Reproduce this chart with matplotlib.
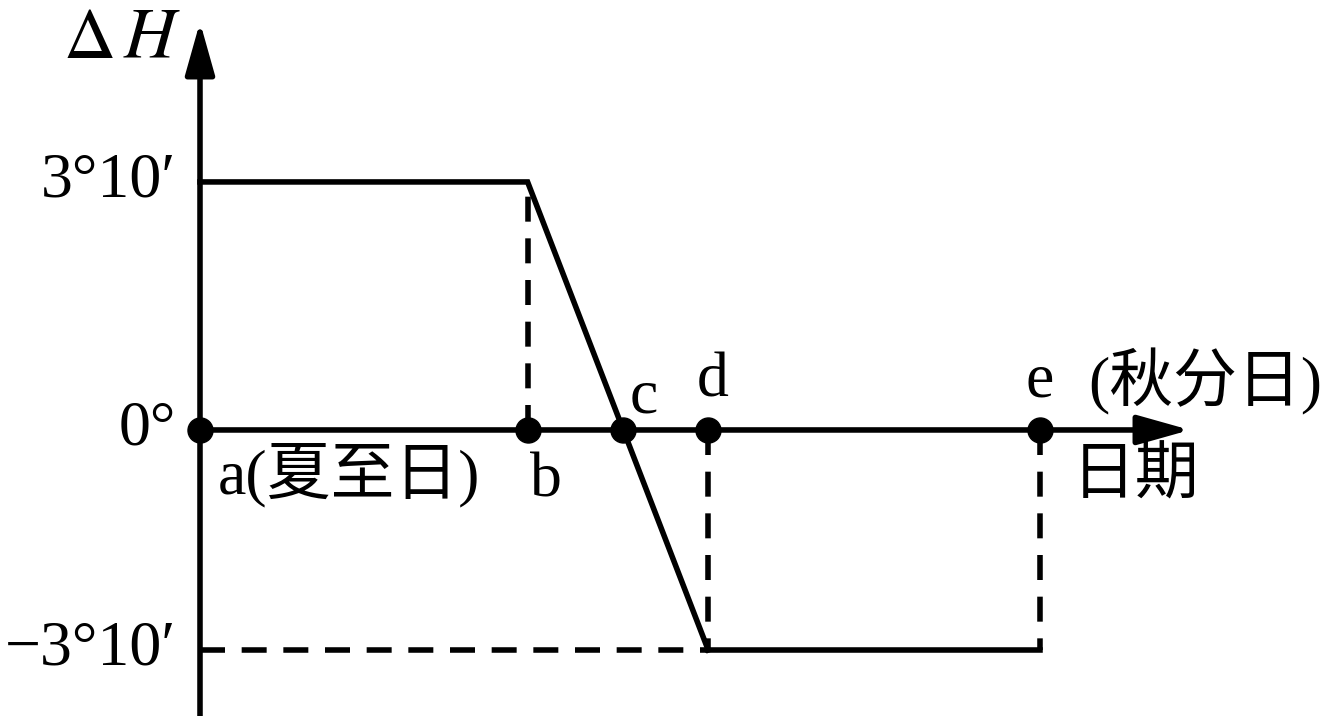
import numpy as np
import matplotlib.pyplot as plt

plt.rcParams['font.family'] = ['Liberation Serif', 'Noto Sans CJK SC', 'DejaVu Serif']
plt.rcParams['mathtext.fontset'] = 'stix'

# points on the date axis (a = summer solstice, e = autumn equinox)
day_names = ['a', 'b', 'c', 'd', 'e']
day_x = [0.0, 3.9, 5.04, 6.05, 10.0]
# ΔH in arc minutes: 3°10' = 190'
dh_max = 190
dh_min = -190
curve_x = [day_x[0], day_x[1], day_x[3], day_x[4]]
curve_y = [dh_max, dh_max, dh_min, dh_min]
ytick_vals = [dh_max, 0, dh_min]
ytick_text = ['3°10′', '0°', '−3°10′']

# the drawing stretches the upper half a bit more than the lower half
up = 248 / 220


def fwd(y):
    y = np.asarray(y, dtype=float)
    return np.where(y > 0, y * up, y)


def inv(t):
    t = np.asarray(t, dtype=float)
    return np.where(t > 0, t / up, t)


fig = plt.figure(figsize=(13.36, 7.16), dpi=100)
ax = fig.add_axes([0, 0, 1, 1])
ax.set_yscale('function', functions=(fwd, inv))
ax.set_xlim(-200 / 84, 1136 / 84)
ax.set_ylim(-247, 371.3 / up)
ax.axis('off')

lw = 4
dash = (4.5, 3)

# axes with arrows
arrow = dict(arrowstyle='-|>,head_length=1.6,head_width=0.45', lw=lw,
             color='black', shrinkA=0, shrinkB=0, mutation_scale=20)
ax.annotate('', xy=(day_x[0], 1 - 22 / 716), xytext=(day_x[0], 0),
            xycoords=ax.get_xaxis_transform(), arrowprops=arrow)
ax.annotate('', xy=(1190 / 1336, 0), xytext=(day_x[0], 0),
            xycoords=ax.get_yaxis_transform(), textcoords='data',
            arrowprops=arrow)

# dashed helper lines
ax.plot([day_x[1], day_x[1]], [0, dh_max], color='black', lw=lw, dashes=dash)
ax.plot([day_x[3], day_x[3]], [0, dh_min], color='black', lw=lw, dashes=dash)
ax.plot([day_x[4], day_x[4]], [0, dh_min], color='black', lw=lw, dashes=dash)
ax.plot([day_x[0], day_x[3]], [dh_min, dh_min], color='black', lw=lw, dashes=dash)

# ΔH curve
ax.plot(curve_x[:3], curve_y[:3], color='black', lw=lw, solid_joinstyle='miter')
ax.plot(curve_x[2:], curve_y[2:], color='black', lw=lw)

# points
ax.plot(day_x, [0] * len(day_x), 'o', color='black', ms=18)

fs = 46
for v, t in zip(ytick_vals, ytick_text):
    ax.annotate(t, (day_x[0], v), xytext=(-24, 0), textcoords='offset pixels',
                ha='right', va='center', fontsize=fs)

ax.annotate(r'$\Delta\,H$', (day_x[0], 1 - 40 / 716),
            xycoords=ax.get_xaxis_transform(), xytext=(-78, 0),
            textcoords='offset pixels', ha='center', va='center', fontsize=52)

labels = ['a(夏至日)', 'b', 'c', 'd', 'e']
label_off = [(18, -45), (18, -52), (20, 32), (4, 48), (0, 48)]
label_ha = ['left', 'center', 'center', 'center', 'center']
for x, t, off, ha in zip(day_x, labels, label_off, label_ha):
    ax.annotate(t, (x, 0), xytext=off, textcoords='offset pixels',
                ha=ha, va='center', fontsize=fs)

ax.annotate('(秋分日)', (day_x[4], 0), xytext=(48, 48), textcoords='offset pixels',
            ha='left', va='center', fontsize=fs)
ax.annotate('日期', (day_x[4], 0), xytext=(32, -48), textcoords='offset pixels',
            ha='left', va='center', fontsize=fs)

fig.savefig('out.png', dpi=100)
